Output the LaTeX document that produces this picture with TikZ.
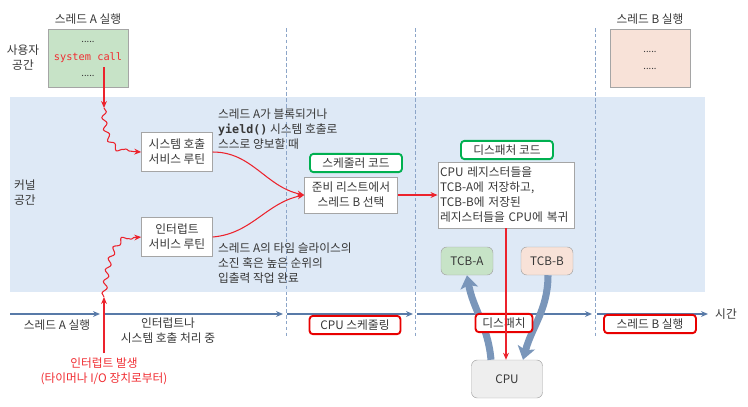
\documentclass[tikz,border=0pt]{standalone}
\usepackage{fontspec}
\setmainfont{Noto Sans CJK KR}
\newfontfamily\codefont{DejaVu Sans Mono}
\usetikzlibrary{arrows.meta, positioning, decorations.pathmorphing}
\definecolor{kernelblue}{RGB}{222,233,246}
\definecolor{txtgray}{RGB}{55,55,55}
\definecolor{boxgray}{RGB}{165,165,165}
\definecolor{threadgreen}{RGB}{199,227,199}
\definecolor{threadpink}{RGB}{248,226,216}
\definecolor{cpugray}{RGB}{238,238,238}
\definecolor{codegreen}{RGB}{0,176,80}
\definecolor{phasered}{RGB}{232,0,0}
\definecolor{linered}{RGB}{236,35,45}
\definecolor{textred}{RGB}{240,45,50}
\definecolor{fatblue}{RGB}{122,150,186}
\definecolor{timeblue}{RGB}{88,122,168}
\definecolor{guideblue}{RGB}{140,165,200}

\begin{document}
\begin{tikzpicture}[x=0.03cm, y=-0.03cm,
    font=\fontsize{10}{12.8}\selectfont, text=txtgray,
    box/.style={draw=boxgray, fill=white, align=center, inner sep=2pt},
    thread/.style={draw=boxgray, minimum width=2.4cm, minimum height=1.74cm},
    codetag/.style={draw=codegreen, line width=1.6pt, rounded corners=3pt,
                    fill=white, minimum width=2.76cm, minimum height=0.55cm, inner sep=1pt},
    phase/.style={draw=phasered, line width=1.6pt, rounded corners=3pt,
                  fill=white, minimum height=0.55cm, inner sep=1pt},
    tcb/.style={draw=boxgray, rounded corners=5pt, minimum width=1.56cm,
                minimum height=0.84cm},
    redarr/.style={-{Stealth[length=6pt,width=5pt]}, draw=linered, line width=0.9pt},
    wave/.style={redarr, decorate, decoration={snake, amplitude=2pt,
                 segment length=10pt, post length=6pt}},
    fatarr/.style={-{Stealth[length=11pt,width=15pt,inset=2.5pt]}, draw=fatblue, line width=6pt},
    timeline/.style={-{Stealth[length=6pt,width=5pt]}, draw=timeblue, line width=1.1pt},
    guide/.style={draw=guideblue, dash pattern=on 3pt off 2pt},
    dots/.style={font=\fontsize{8}{9}\selectfont}
  ]
  \useasboundingbox (0,0) rectangle (748,406);
  \fill[kernelblue] (10,97) rectangle (705,292);
  \foreach \x in {286,415,595}
    \draw[guide] (\x,28) -- (\x,338);
  \foreach \a/\b in {10/100, 104/283, 287/413, 417/592, 597/708}
    \draw[timeline] (\a,314) -- (\b,314);

  \node[align=center] (ulabel) at (23,58) {사용자\\공간};
  \node[align=center] (klabel) at (25,193) {커널\\공간};
  \node (tlabel) at (726,314) {시간};

  \node[thread, fill=threadgreen] (thA) at (88,58) {};
  \node (titleA) at (88,19) {스레드 A 실행};
  \node[dots] (dotsA1) at (88,42) {.....};
  \node[text=textred, font=\codefont\fontsize{8.8}{10}\selectfont] (callA) at (88,58) {system call};
  \node[dots] (dotsA2) at (88,76) {.....};

  \node[thread, fill=threadpink] (thB) at (650,58) {};
  \node (titleB) at (650,19) {스레드 B 실행};
  \node[dots] (dotsB1) at (650,52) {.....};
  \node[dots] (dotsB2) at (650,69) {.....};

  \node[box, minimum width=2.13cm, minimum height=1.17cm] (sys) at (177,152)
    {시스템 호출\\서비스 루틴};
  \node[box, minimum width=2.13cm, minimum height=1.17cm] (intr) at (177,237)
    {인터럽트\\서비스 루틴};
  \node[anchor=west, align=left] (blocktxt) at (214,129)
    {스레드 A가 블록되거나\\{\codefont\bfseries yield()} 시스템 호출로\\스스로 양보할 때};
  \node[anchor=west, align=left] (slicetxt) at (214,263)
    {스레드 A의 타임 슬라이스의\\소진 혹은 높은 순위의\\입출력 작업 완료};

  \node[box, minimum width=2.79cm, minimum height=1.08cm] (sched) at (351,195)
    {준비 리스트에서\\스레드 B 선택};
  \node[codetag] (schedtag) at (356,163) {스케줄러 코드};
  \node[box, align=left, text width=3.95cm, minimum height=1.98cm] (disp) at (506,195)
    {CPU 레지스터들을\\TCB-A에 저장하고,\\TCB-B에 저장된\\레지스터들을 CPU에 복귀};
  \node[codetag] (disptag) at (507,150) {디스패처 코드};

  \node[tcb, fill=threadgreen] (tcba) at (467,261) {TCB-A};
  \node[tcb, fill=threadpink] (tcbb) at (547,261) {TCB-B};
  \node[tcb, fill=cpugray, minimum width=2.13cm, minimum height=1.14cm] (cpu) at (507,379) {CPU};

  \draw[fatarr] ([xshift=-0.48cm]cpu.north) to[out=95, in=-80] (tcba.south);
  \draw[fatarr] ([xshift=0.03cm]tcbb.south) to[out=-90, in=75] ([xshift=0.48cm]cpu.north);

  \node[phase, minimum width=2.73cm] (schedph) at (355,325) {CPU 스케줄링};
  \node[phase, minimum width=1.71cm] (dispph) at (504,323) {디스패치};
  \node[phase, minimum width=2.76cm] (runB) at (650,324) {스레드 B 실행};
  \node (runA) at (57,325) {스레드 A 실행};
  \node[align=center] (handling) at (168,331) {인터럽트나\\시스템 호출 처리 중};
  \node[align=center, text=textred] (irqtxt) at (104,371)
    {인터럽트 발생\\(타이머나 I/O 장치로부터)};

  \coordinate (callpt) at (104,67);
  \coordinate (waveA) at (104,108);
  \coordinate (waveB) at (104,297);
  \draw[redarr] (callpt) -- (waveA);
  \draw[wave] (waveA) .. controls (104,135) and (112,152) .. (sys.west);
  \draw[redarr] (irqtxt.north -| waveB) -- (waveB);
  \draw[wave] (waveB) .. controls (108,255) and (116,237) .. (intr.west);
  \draw[redarr] (sys.east) to[out=0, in=168] (sched.west);
  \draw[redarr] (intr.east) to[out=5, in=192] (sched.west);
  \draw[redarr] (sched.east) -- (disp.west);
  \draw[redarr] (disp.south) -- (disp.south |- cpu.north);
\end{tikzpicture}
\end{document}
